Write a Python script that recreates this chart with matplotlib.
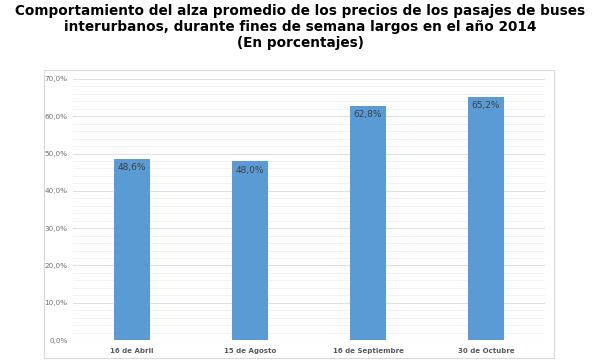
import matplotlib
matplotlib.use('Agg')
from matplotlib import pyplot as plt
from matplotlib.patches import Rectangle
import numpy as np

categories = ['16 de Abril', '15 de Agosto', '16 de Septiembre', '30 de Octubre']
values = [48.6, 48.0, 62.8, 65.2]
yticks = [0, 10, 20, 30, 40, 50, 60, 70]

fig = plt.figure(figsize=(6, 3.61), dpi=100)
ax = fig.add_axes([73/600, 21/361, 472/600, 261/361])

# chart frame
fig.patches.append(Rectangle((44/600, 3/361), 510/600, 288/361, transform=fig.transFigure,
                             fill=False, edgecolor='#d9d9d9', linewidth=0.8))

x = np.arange(len(categories))
bars = ax.bar(x, values, width=0.31, color='#5b9bd5', zorder=3)

for b, v in zip(bars, values):
    ax.text(b.get_x() + b.get_width() / 2, v - 1.2, f'{v:.1f}%'.replace('.', ','),
            ha='center', va='top', fontsize=6.5, color='#404040', zorder=4)

ax.set_xlim(-0.5, len(categories) - 0.5)
ax.set_ylim(0, 70)
ax.set_yticks(yticks)
ax.set_yticklabels([f'{t:.1f}%'.replace('.', ',') for t in yticks], fontsize=5.2, color='#707070')
ax.set_yticks(np.arange(0, 71, 2), minor=True)
ax.grid(axis='y', which='major', color='#e0e0e0', linewidth=0.8, zorder=0)
ax.grid(axis='y', which='minor', color='#f0f0f0', linewidth=0.6, zorder=0)
ax.set_xticks(x)
ax.set_xticklabels(categories, fontsize=5, fontweight='bold', color='#595959')
ax.tick_params(axis='both', which='both', length=0)
ax.tick_params(axis='x', pad=6)
ax.tick_params(axis='y', pad=4)
for s in ax.spines.values():
    s.set_visible(False)
ax.axhline(0, color='#d9d9d9', linewidth=0.8, zorder=2)

fig.text(0.5, 0.99, 'Comportamiento del alza promedio de los precios de los pasajes de buses\n'
         'interurbanos, durante fines de semana largos en el año 2014\n(En porcentajes)',
         ha='center', va='top', fontsize=9.8, fontweight='bold', linespacing=1.2)

fig.savefig('out.png', dpi=100)
